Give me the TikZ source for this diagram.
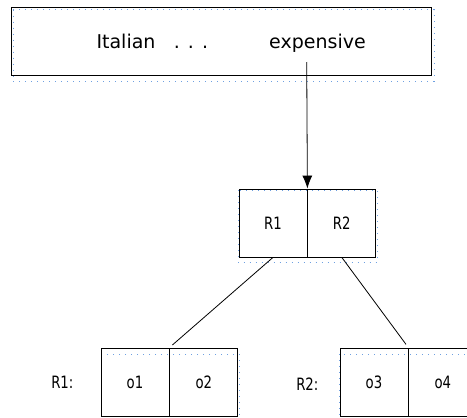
\documentclass[tikz,border=0pt]{standalone}
\usepackage{fontspec}
\setmainfont{DejaVu Sans}
\newfontfamily\narrowsans[FakeStretch=0.78]{DejaVu Sans}
\usetikzlibrary{positioning,arrows.meta}
\definecolor{shadowblue}{RGB}{110,160,225}

\tikzset{
  cell/.style={draw, line width=0.8pt, minimum width=68pt, minimum height=68pt,
    inner sep=0pt, font=\narrowsans\fontsize{17}{19}\selectfont},
  lbl/.style={inner sep=0pt, font=\narrowsans\fontsize{17}{19}\selectfont},
  big/.style={inner sep=0pt, anchor=base, font=\fontsize{19}{21}\selectfont},
  ghost/.style={shadowblue, line width=0.7pt, dash pattern=on 0.8pt off 5.2pt},
}

\begin{document}
\begin{tikzpicture}[x=1pt,y=-1pt]
\useasboundingbox (0,0) rectangle (467,418);
\clip (0,0) rectangle (467,418);

% shadows
\draw[ghost] (13,9.5) rectangle (434,81);
\draw[ghost] (238,190) rectangle (377,262.5);
\draw[ghost] (101,354) rectangle (239.5,420);
\draw[ghost] (339.5,354) rectangle (480,420);

% query box
\node[draw, line width=0.8pt, minimum width=420.5pt, minimum height=68pt, inner sep=0pt] (query) at (221.4,41.3) {};
\node[big] (italian) at (126,48) {Italian};
\node[big] (dots) at (191,48) {. . .};
\node[big] (expensive) at (317.5,48) {expensive};
\coordinate (start) at (306.7,62);

% root node
\node[cell] (r1) at (273,223) {R1};
\node[cell] (r2) [right=0pt of r1] {R2};

% leaves
\node[cell] (o1) at (135,382) {o1};
\node[cell] (o2) [right=0pt of o1] {o2};
\node[cell] (o3) at (374,382) {o3};
\node[cell] (o4) [right=0pt of o3] {o4};
\node[lbl] (l1) [left=27pt of o1] {R1:};
\node[lbl] (l2) [left=21pt of o3, yshift=-2pt] {R2:};

% connectors
\draw[line width=0.8pt, -{Latex[length=13pt,width=10pt]}] (start) -- (r1.north east);
\draw[line width=0.8pt, shorten >=4pt] (r1.south) -- (o1.north east);
\draw[line width=0.8pt, shorten >=4pt] (r2.south) -- (o3.north east);
\end{tikzpicture}
\end{document}
